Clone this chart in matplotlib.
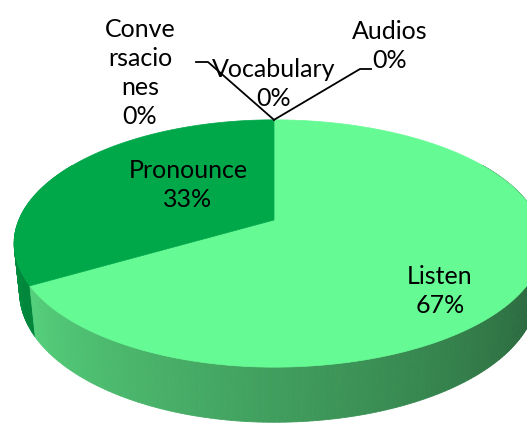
#coding: utf-8
import numpy as np
import matplotlib
matplotlib.use("Agg")
import matplotlib.pyplot as plt
from matplotlib.patches import Polygon

# datos
categories = ['Listen', 'Pronounce', 'Conversaciones', 'Vocabulary', 'Audios']
values = [2, 1, 0, 0, 0]
shown_labels = ['Listen', 'Pronounce', 'Conve\nrsacio\nnes', 'Vocabulary', 'Audios']
top_colors = ['#66FA94', '#00A84A', '#00A84A', '#00A84A', '#00A84A']

# posiciones de los rotulos (pixeles)
label_pos = [(440, 291), (188, 185), (140, 73), (274, 84), (390, 46)]

plt.rcParams['font.family'] = ['Lato', 'DejaVu Sans']

# proyeccion 3D simple (perspectiva)
F, FY, D, SA, CA = 1194.0, 1218.0, 4.68, 0.458, 0.889
CX, CY, H = 274.0, 220.0, 0.211
KX_RIGHT = 1.035


def project(t_deg, depth=0.0):
    t = np.radians(t_deg)
    X = np.cos(t)
    Z = -np.sin(t)
    yw = -depth
    yc = Z * SA - yw * CA
    zc = D - Z * CA - yw * SA
    dx = F * X / zc
    dx = np.where(dx > 0, dx * KX_RIGHT, dx)
    return CX + dx, CY + FY * yc / zc


total = float(sum(values))
fracs = [v / total for v in values]

# angulos: desde las 12 en sentido horario
starts, ends = [], []
acc = 90.0
for fr in fracs:
    starts.append(acc)
    acc -= fr * 360.0
    ends.append(acc)


def slice_of(t):
    for i, (s, e) in enumerate(zip(starts, ends)):
        if s - e <= 0:
            continue
        tt = t
        while tt > s:
            tt -= 360
        while tt <= e:
            tt += 360
        if e < tt <= s:
            return i
    return 0


fig = plt.figure(figsize=(5.27, 4.23), dpi=100)
ax = fig.add_axes([0, 0, 1, 1])
ax.set_xlim(0, 527)
ax.set_ylim(423, 0)
ax.axis('off')

# lateral
step = 1.0
for t0 in np.arange(150, 390, step):
    t1 = t0 + step
    tm = t0 + step / 2
    i = slice_of(tm)
    base = np.array(matplotlib.colors.to_rgb(top_colors[i]))
    tn = tm % 360
    if tn < 90:
        tn += 360
    fac = 0.85 - 0.00333 * (tn - 205)
    if i == 1:
        fac = fac * 0.95
    col = np.clip(base * fac, 0, 1)
    xa, ya = project(np.array([t0, t1]))
    xb, yb = project(np.array([t1, t0]), H)
    pts = np.column_stack([np.r_[xa, xb], np.r_[ya, yb]])
    ax.add_patch(Polygon(pts, closed=True, facecolor=col, edgecolor=col, linewidth=0.6))

# cara superior
for i, (s, e) in enumerate(zip(starts, ends)):
    if s - e <= 0:
        continue
    ts = np.linspace(s, e, 200)
    xs, ys = project(ts)
    pts = np.column_stack([np.r_[CX, xs], np.r_[CY, ys]])
    ax.add_patch(Polygon(pts, closed=True, facecolor=top_colors[i], edgecolor=top_colors[i], linewidth=0.5))

# rotulos
for i, lab in enumerate(shown_labels):
    pct = fracs[i] * 100
    ax.text(label_pos[i][0], label_pos[i][1], f"{lab}\n{pct:.0f}%", ha='center', va='center',
            fontsize=18, color='black', linespacing=1.3)

# lineas guia para las porciones de 0%
x0, y0 = project(90.0)
ax.plot([196, 208, x0], [62, 62, y0], color='black', lw=1.3)
ax.plot([371, 360, x0], [69, 69, y0], color='black', lw=1.3)

fig.savefig('out.png', dpi=100)
